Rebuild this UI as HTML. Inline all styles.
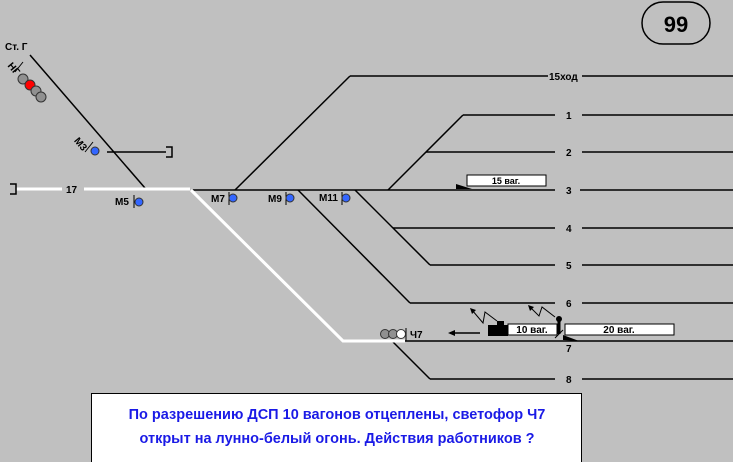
<!DOCTYPE html>
<html><head><meta charset="utf-8"><style>
html,body{margin:0;padding:0;background:#c0c0c0}
svg{display:block}
text{font-family:"Liberation Sans",sans-serif;font-weight:bold}
</style></head><body>
<svg width="733" height="462" viewBox="0 0 733 462" xmlns="http://www.w3.org/2000/svg">
<rect width="733" height="462" fill="#c0c0c0"/>
<!-- 99 badge -->
<rect x="642" y="2" width="68" height="42" rx="21" fill="none" stroke="#000" stroke-width="1.5"/>
<text x="676" y="32" font-size="22" text-anchor="middle">99</text>
<g stroke="#000" stroke-width="1.5" fill="none">
<!-- top left diagonal -->
<line x1="30" y1="55" x2="145" y2="188"/>
<line x1="107" y1="152" x2="166" y2="152"/>
<path d="M166 147 H172 V157 H166"/>
<line x1="23" y1="62" x2="15" y2="72" stroke-width="1"/>
<line x1="93" y1="142" x2="85" y2="152" stroke-width="1"/>
<!-- main line -->
<line x1="192" y1="190" x2="555" y2="190"/>
<line x1="580" y1="190" x2="733" y2="190"/>
<!-- 15ход -->
<line x1="235" y1="190" x2="350" y2="76"/>
<line x1="350" y1="76" x2="548" y2="76"/>
<line x1="582" y1="76" x2="733" y2="76"/>
<!-- 1,2 -->
<line x1="388" y1="190" x2="463" y2="115"/>
<line x1="463" y1="115" x2="555" y2="115"/>
<line x1="582" y1="115" x2="733" y2="115"/>
<line x1="426" y1="152" x2="555" y2="152"/>
<line x1="582" y1="152" x2="733" y2="152"/>
<!-- 4,5 -->
<line x1="355" y1="190" x2="430" y2="265"/>
<line x1="430" y1="265" x2="555" y2="265"/>
<line x1="582" y1="265" x2="733" y2="265"/>
<line x1="393" y1="228" x2="555" y2="228"/>
<line x1="582" y1="228" x2="733" y2="228"/>
<!-- 6 -->
<line x1="298" y1="190" x2="410" y2="303"/>
<line x1="410" y1="303" x2="555" y2="303"/>
<line x1="582" y1="303" x2="733" y2="303"/>
<!-- 7 -->
<line x1="405" y1="341" x2="733" y2="341"/>
<!-- 8 -->
<line x1="392" y1="341" x2="430" y2="379"/>
<line x1="430" y1="379" x2="555" y2="379"/>
<line x1="582" y1="379" x2="733" y2="379"/>
<!-- signal posts -->
<line x1="134" y1="195" x2="134" y2="208" stroke-width="1"/>
<line x1="229" y1="192" x2="229" y2="205" stroke-width="1"/>
<line x1="286" y1="192" x2="286" y2="205" stroke-width="1"/>
<line x1="342" y1="192" x2="342" y2="205" stroke-width="1"/>
<line x1="406" y1="328" x2="406" y2="341" stroke-width="1"/>
</g>
<!-- white route -->
<g stroke="#fff" stroke-width="3" fill="none">
<line x1="16" y1="189" x2="62" y2="189"/>
<line x1="84" y1="189" x2="190" y2="189"/>
<polyline points="191,190 343,341 405,341"/>
</g>
<path d="M10 184 H16 V194 H10" stroke="#000" stroke-width="1.5" fill="none"/>
<!-- lights -->
<g stroke="#333" stroke-width="1">
<circle cx="23" cy="79" r="5" fill="#909090"/>
<circle cx="30" cy="85" r="5" fill="#f00"/>
<circle cx="36" cy="91" r="5" fill="#909090"/>
<circle cx="41" cy="97" r="5" fill="#909090"/>
<circle cx="95" cy="151" r="4" fill="#3366ff"/>
<circle cx="139" cy="202" r="4" fill="#3366ff"/>
<circle cx="233" cy="198" r="4" fill="#3366ff"/>
<circle cx="290" cy="198" r="4" fill="#3366ff"/>
<circle cx="346" cy="198" r="4" fill="#3366ff"/>
<circle cx="385" cy="334" r="4.5" fill="#909090"/>
<circle cx="393" cy="334" r="4.5" fill="#909090"/>
<circle cx="401" cy="334" r="4.5" fill="#fff"/>
</g>
<!-- labels -->
<g font-size="10">
<text x="5" y="50">Ст. Г</text>
<text x="8" y="70" transform="rotate(50 12 67)">НГ</text>
<text x="75" y="148" transform="rotate(50 82 143)">М3</text>
<text x="66" y="193">17</text>
<text x="115" y="205">М5</text>
<text x="211" y="202">М7</text>
<text x="268" y="202">М9</text>
<text x="319" y="201">М11</text>
<text x="549" y="80">15ход</text>
<text x="566" y="119">1</text>
<text x="566" y="156">2</text>
<text x="566" y="194">3</text>
<text x="566" y="232">4</text>
<text x="566" y="269">5</text>
<text x="566" y="307">6</text>
<text x="566" y="352">7</text>
<text x="566" y="383">8</text>
<text x="410" y="338">Ч7</text>
</g>
<!-- 15 ваг -->
<rect x="467" y="175" width="79" height="11" fill="#fff" stroke="#000"/>
<text x="506" y="184" font-size="9" text-anchor="middle">15 ваг.</text>
<polygon points="456,184 456,189 472,189" fill="#000"/>
<!-- 10, 20 ваг -->
<rect x="508" y="324" width="49" height="11" fill="#fff" stroke="#000"/>
<text x="532" y="333" font-size="10" text-anchor="middle">10 ваг.</text>
<rect x="565" y="324" width="109" height="11" fill="#fff" stroke="#000"/>
<text x="619" y="333" font-size="10" text-anchor="middle">20 ваг.</text>
<rect x="488" y="325" width="20" height="11" fill="#000"/>
<rect x="497" y="321" width="7" height="5" fill="#000"/>
<polygon points="563,335 563,340 579,341" fill="#000"/>
<!-- person -->
<circle cx="559" cy="319" r="3" fill="#000"/>
<line x1="559" y1="320" x2="559" y2="334" stroke="#000" stroke-width="3"/>
<line x1="555" y1="338" x2="563" y2="330" stroke="#000" stroke-width="1"/>
<!-- arrow -->
<line x1="450" y1="333" x2="480" y2="333" stroke="#000" stroke-width="1.5"/>
<polygon points="448,333 455,330 455,336" fill="#000"/>
<!-- radio zigzags -->
<g stroke="#000" stroke-width="1" fill="none">
<polyline points="497,321 485,312 483,323 472,310"/>
<polyline points="555,317 542,307 539,316 530,307"/>
</g>
<polygon points="470,308 476,310 472,314" fill="#000"/>
<polygon points="528,305 534,307 530,311" fill="#000"/>
<!-- question box -->
<rect x="91.5" y="393.5" width="490" height="70" fill="#fff" stroke="#000"/>
<text x="337" y="419" font-size="14.5" fill="#1a1ae6" text-anchor="middle">По разрешению ДСП 10 вагонов отцеплены, светофор Ч7</text>
<text x="337" y="443" font-size="14.5" fill="#1a1ae6" text-anchor="middle">открыт на лунно-белый огонь. Действия работников ?</text>
</svg>
</body></html>
